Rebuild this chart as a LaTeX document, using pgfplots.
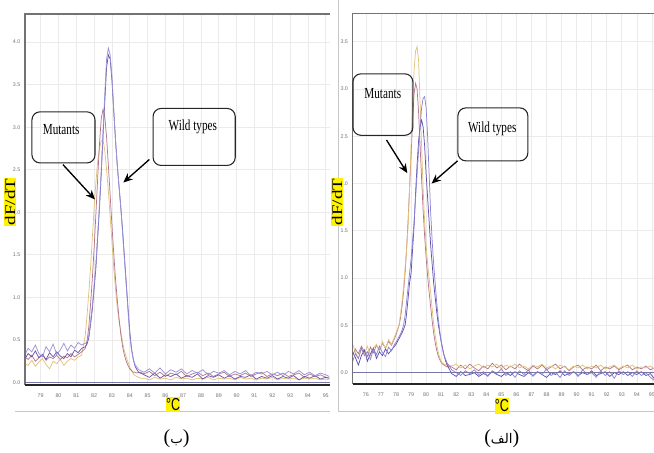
\documentclass[border=0pt]{standalone}
\usepackage{pgfplots}
\pgfplotsset{compat=1.18}
\usepackage{pgfplotstable}
\usepackage{graphicx}
\usepackage{fontspec}
\setmainfont{Liberation Serif}
\newfontfamily\arial{Liberation Sans}
\newfontfamily\arabicfont[Script=Arabic]{DejaVu Sans}
\usetikzlibrary{arrows.meta}
\TeXXeTstate=1
\definecolor{cvio}{HTML}{9A92D8}
\definecolor{cdark}{HTML}{6B55A8}
\definecolor{cmauve}{HTML}{B5768C}
\definecolor{ctan}{HTML}{E2C27A}
\definecolor{cbv}{HTML}{8C84D0}
\definecolor{cdb}{HTML}{5E4EB0}
\definecolor{cbase}{HTML}{7878A8}

% left panel (b): x vio dark mauve tan
\pgfplotstableread{
x vio dark mauve tan
78.12 0.33 0.28 0.30 0.22
78.3 0.40 0.34 0.27 0.20
78.5 0.36 0.30 0.32 0.26
78.7 0.44 0.37 0.25 0.19
78.9 0.34 0.29 0.29 0.24
79.1 0.30 0.33 0.33 0.28
79.3 0.42 0.27 0.26 0.21
79.5 0.36 0.35 0.30 0.16
79.7 0.45 0.30 0.28 0.25
79.9 0.33 0.36 0.32 0.22
80.1 0.38 0.31 0.27 0.27
80.3 0.46 0.28 0.31 0.20
80.5 0.37 0.34 0.29 0.25
80.7 0.44 0.30 0.34 0.28
80.9 0.40 0.38 0.30 0.26
81.1 0.47 0.35 0.33 0.30
81.3 0.44 0.40 0.36 0.32
81.5 0.46 0.42 0.40 0.55
81.6 0.48 0.45 0.48 0.78
81.7 0.55 0.52 0.65 1.05
81.8 0.72 0.68 0.92 1.35
81.9 0.90 0.86 1.22 1.70
82.0 1.15 1.10 1.58 2.05
82.1 1.40 1.35 1.98 2.35
82.2 1.75 1.70 2.40 2.60
82.3 2.10 2.05 2.80 2.75
82.4 2.50 2.45 3.10 2.84
82.5 2.95 2.90 3.21 2.85
82.6 3.40 3.30 3.12 2.72
82.7 3.80 3.70 2.88 2.50
82.8 3.93 3.85 2.55 2.25
82.9 3.85 3.80 2.20 1.95
83.0 3.60 3.55 1.85 1.65
83.1 3.20 3.20 1.52 1.35
83.2 2.85 2.85 1.22 1.10
83.3 2.55 2.55 0.97 0.88
83.4 2.30 2.30 0.75 0.72
83.5 2.05 2.05 0.56 0.60
83.6 1.75 1.78 0.42 0.47
83.7 1.45 1.48 0.32 0.37
83.8 1.15 1.18 0.25 0.30
83.9 0.85 0.88 0.20 0.24
84.0 0.55 0.60 0.16 0.18
84.1 0.38 0.40 0.14 0.14
84.2 0.27 0.27 0.12 0.10
84.3 0.21 0.19 0.12 0.08
84.4 0.18 0.15 0.11 0.07
84.5 0.15 0.12 0.12 0.06
84.6 0.14 0.11 0.12 0.05
84.8 0.12 0.09 0.10 0.05
85.1 0.16 0.06 0.13 0.03
85.4 0.11 0.11 0.08 0.06
85.7 0.17 0.05 0.12 0.04
86.0 0.10 0.09 0.07 0.05
86.3 0.15 0.07 0.11 0.03
86.6 0.12 0.10 0.09 0.06
86.9 0.16 0.05 0.13 0.04
87.2 0.10 0.08 0.07 0.05
87.5 0.14 0.06 0.10 0.03
87.8 0.11 0.10 0.12 0.05
88.1 0.15 0.04 0.08 0.04
88.4 0.09 0.08 0.11 0.06
88.7 0.13 0.06 0.07 0.03
89.0 0.11 0.09 0.10 0.05
89.3 0.14 0.05 0.12 0.04
89.6 0.09 0.08 0.07 0.05
89.9 0.13 0.04 0.10 0.03
90.2 0.10 0.07 0.08 0.06
90.5 0.14 0.06 0.11 0.04
90.8 0.08 0.09 0.07 0.05
91.1 0.12 0.04 0.10 0.03
91.4 0.10 0.07 0.12 0.05
91.7 0.13 0.05 0.07 0.04
92.0 0.09 0.08 0.10 0.06
92.3 0.12 0.04 0.08 0.03
92.6 0.08 0.07 0.11 0.05
92.9 0.13 0.05 0.07 0.04
93.2 0.10 0.08 0.09 0.05
93.5 0.14 0.03 0.11 0.03
93.8 0.09 0.07 0.06 0.05
94.1 0.12 0.05 0.10 0.04
94.4 0.08 0.08 0.07 0.05
94.7 0.11 0.04 0.09 0.03
95.0 0.09 0.06 0.06 0.04
95.2 0.07 0.05 0.05 0.03
}\tabL

% right panel (alef): x tan mauve bv db
\pgfplotstableread{
x tan mauve bv db
75.12 0.30 0.18 0.12 0.22
75.3 0.22 0.25 0.20 0.16
75.5 0.15 0.20 0.15 0.08
75.7 0.25 0.28 0.26 0.18
75.9 0.20 0.22 0.18 0.24
76.1 0.28 0.17 0.22 0.12
76.3 0.18 0.27 0.14 0.20
76.5 0.26 0.21 0.25 0.26
76.7 0.30 0.29 0.19 0.15
76.9 0.22 0.24 0.28 0.22
77.1 0.33 0.31 0.21 0.18
77.3 0.25 0.26 0.17 0.25
77.5 0.35 0.33 0.27 0.20
77.7 0.30 0.29 0.23 0.24
77.9 0.38 0.36 0.30 0.28
78.0 0.42 0.40 0.32 0.30
78.1 0.46 0.45 0.35 0.33
78.2 0.50 0.50 0.38 0.36
78.3 0.62 0.58 0.41 0.39
78.4 0.75 0.70 0.45 0.42
78.5 0.90 0.85 0.50 0.46
78.6 1.10 1.05 0.60 0.50
78.7 1.30 1.30 0.75 0.62
78.8 1.55 1.60 0.90 0.78
78.9 1.95 1.95 1.05 0.95
79.0 2.40 2.30 1.20 1.05
79.1 2.85 2.65 1.40 1.30
79.2 3.20 2.95 1.60 1.55
79.3 3.40 3.06 1.85 1.90
79.4 3.45 3.00 2.10 2.20
79.5 3.30 2.75 2.35 2.45
79.6 2.85 2.40 2.60 2.60
79.7 2.40 2.05 2.80 2.67
79.8 1.95 1.72 2.90 2.60
79.9 1.60 1.45 2.92 2.40
80.0 1.35 1.22 2.80 2.10
80.1 1.15 1.02 2.50 1.85
80.2 1.00 0.85 2.10 1.60
80.3 0.85 0.70 1.70 1.35
80.4 0.68 0.55 1.40 1.15
80.5 0.52 0.42 1.15 0.95
80.6 0.40 0.32 0.95 0.80
80.7 0.30 0.24 0.75 0.65
80.8 0.22 0.18 0.58 0.52
80.9 0.16 0.14 0.45 0.42
81.0 0.12 0.11 0.33 0.33
81.1 0.10 0.09 0.24 0.25
81.2 0.09 0.08 0.18 0.18
81.3 0.08 0.07 0.14 0.12
81.4 0.09 0.06 0.10 0.08
81.5 0.08 0.07 0.08 0.05
81.7 0.07 0.06 0.03 -0.01
82.0 0.09 0.03 0.00 -0.04
82.3 0.05 0.08 -0.03 0.01
82.6 0.08 0.04 0.02 -0.03
82.9 0.04 0.09 -0.01 -0.02
83.2 0.07 0.05 0.03 0.00
83.5 0.09 0.02 -0.02 -0.04
83.8 0.05 0.07 0.01 -0.01
84.1 0.08 0.04 -0.04 -0.03
84.4 0.06 0.10 0.02 0.01
84.7 0.09 0.05 -0.01 -0.02
85.0 0.04 0.08 0.04 -0.04
85.3 0.08 0.03 -0.03 0.00
85.6 0.06 0.07 0.01 -0.03
85.9 0.09 0.04 -0.05 0.01
86.2 0.05 0.09 0.02 -0.02
86.5 0.07 0.05 -0.02 -0.04
86.8 0.04 0.02 0.03 0.00
87.1 0.08 0.07 -0.04 -0.03
87.4 0.06 0.04 0.01 0.01
87.7 0.09 0.08 -0.02 -0.02
88.0 0.05 0.03 0.04 -0.05
88.3 0.07 0.06 -0.03 0.00
88.6 0.04 0.09 0.00 -0.02
88.9 0.08 0.04 -0.05 0.02
89.2 0.06 0.07 0.02 -0.03
89.5 0.03 0.02 -0.03 -0.01
89.8 0.07 0.06 0.01 0.01
90.1 0.05 0.08 -0.04 -0.03
90.4 0.08 0.03 0.03 0.00
90.7 0.04 0.06 -0.02 -0.02
91.0 0.07 0.04 0.00 0.02
91.3 0.05 0.08 -0.05 -0.03
91.6 0.08 0.02 0.02 -0.01
91.9 0.04 0.06 -0.03 0.01
92.2 0.06 0.04 0.01 -0.04
92.5 0.08 0.07 -0.06 0.00
92.8 0.04 0.03 0.02 -0.02
93.1 0.07 0.06 -0.02 0.01
93.4 0.05 0.08 0.01 -0.03
93.7 0.08 0.03 -0.04 0.00
94.0 0.04 0.06 0.02 -0.02
94.3 0.06 0.04 -0.03 0.01
94.6 0.05 0.07 0.00 -0.03
94.9 0.07 0.03 -0.05 -0.01
95.14 0.04 0.05 -0.08 -0.06
}\tabR

\pgfplotsset{
  melt/.style={
    scale only axis, anchor=south west, clip=false,
    axis line style={draw=none},
    tick style={draw=none},
    xmajorgrids, ymajorgrids,
    major grid style={draw=black!8, line width=0.5pt},
    ticklabel style={font=\arial\fontsize{4}{5}\selectfont, text=black!55},
    /pgf/number format/assume math mode=true,
    yticklabel style={/pgf/number format/fixed, /pgf/number format/fixed zerofill, /pgf/number format/precision=1},
    xticklabel style={yshift=-3pt},
    ytick={0,0.5,1,1.5,2,2.5,3,3.5,4},
    xlabel={\scalebox{0.72}[1]{°C}},
    ylabel={\scalebox{1.3}[1]{dF/dT}},
    xlabel style={font=\arial\fontsize{13}{14}\selectfont, fill=yellow, inner xsep=0.2pt, inner ysep=1.2pt, anchor=center},
    ylabel style={font=\fontsize{11}{12}\selectfont, fill=yellow, inner sep=0.5pt, anchor=center},
    every axis plot/.append style={line width=0.55pt, no marks},
  },
}
\tikzset{
  callout/.style={rounded corners=6pt, line width=0.8pt, draw=black!85},
  calltext/.style={font=\fontsize{11.5}{13}\selectfont, text=black},
  callarrow/.style={-{Stealth[length=7pt,width=6pt]}, line width=1pt, black},
}

\begin{document}
\begin{tikzpicture}
\path[use as bounding box] (0,0) rectangle (490.5pt,339.75pt);
% panel frame lines
\draw[black!22, line width=0.75pt] (11.25pt,31.1pt) -- (247.5pt,31.1pt);
\draw[black!22, line width=0.75pt] (253.5pt,339.75pt) -- (253.5pt,31.1pt) -- (490.5pt,31.1pt);

% ---------- left panel (b) ----------
\begin{axis}[melt, at={(18.75pt,51pt)}, width=228.75pt, height=278.25pt,
  xmin=78.12, xmax=95.24, ymin=-0.03, ymax=4.33,
  xtick={79,80,...,95},
  xlabel style={at={(axis description cs:0.486,-0.053)}},
  ylabel style={at={(axis description cs:-0.049,0.493)}}]
\addplot[ctan] table[x=x, y=tan] {\tabL};
\addplot[cmauve] table[x=x, y=mauve] {\tabL};
\addplot[cdark] table[x=x, y=dark] {\tabL};
\addplot[cvio] table[x=x, y=vio] {\tabL};
\addplot[cbase, line width=0.9pt] coordinates {(78.12,0) (95.24,0)};
\draw[black!55, line width=0.9pt] (rel axis cs:0,0) -- (rel axis cs:0,1) -- (rel axis cs:1,1);
\draw[black!85, line width=1.3pt] (rel axis cs:0,0) -- (rel axis cs:1,0);
% callouts
\draw[callout] (axis cs:78.51,3.18) rectangle (axis cs:82.05,2.58);
\node[calltext] at (axis cs:80.15,2.97) {\scalebox{0.73}[1]{Mutants}};
\draw[callarrow] (axis cs:80.25,2.56) -- (axis cs:82.05,2.15);
\draw[callout] (axis cs:85.31,3.22) rectangle (axis cs:89.92,2.55);
\node[calltext] at (axis cs:87.54,3.0) {\scalebox{0.73}[1]{Wild types}};
\draw[callarrow] (axis cs:85.10,2.62) -- (axis cs:83.64,2.35);
\end{axis}

% ---------- right panel (alef) ----------
\begin{axis}[melt, at={(264.5pt,51.75pt)}, width=226pt, height=278pt,
  xmin=75.12, xmax=95.14, ymin=-0.12, ymax=3.8,
  xtick={76,77,...,95},
  xlabel style={at={(axis description cs:0.4955,-0.059)}},
  ylabel style={at={(axis description cs:-0.052,0.491)}}]
\addplot[cmauve] table[x=x, y=mauve] {\tabR};
\addplot[ctan] table[x=x, y=tan] {\tabR};
\addplot[cdb] table[x=x, y=db] {\tabR};
\addplot[cbv] table[x=x, y=bv] {\tabR};
\addplot[cbase, line width=0.9pt] coordinates {(75.12,0) (95.14,0)};
\draw[black!55, line width=0.9pt] (rel axis cs:0,0) -- (rel axis cs:0,1) -- (rel axis cs:1,1);
\draw[black!85, line width=1.3pt] (rel axis cs:0,0) -- (rel axis cs:1,0);
% callouts
\draw[callout] (axis cs:75.14,3.16) rectangle (axis cs:79.12,2.51);
\node[calltext] at (axis cs:77.12,2.95) {\scalebox{0.73}[1]{Mutants}};
\draw[callarrow] (axis cs:77.37,2.46) -- (axis cs:78.75,2.11);
\draw[callout] (axis cs:82.11,2.80) rectangle (axis cs:86.76,2.24);
\node[calltext] at (axis cs:84.39,2.58) {\scalebox{0.73}[1]{Wild types}};
\draw[callarrow] (axis cs:82.09,2.24) -- (axis cs:80.36,2.00);
\end{axis}

% panel captions
\node[inner sep=0pt] at (132.5pt,10.5pt) {\fontsize{15}{16}\selectfont(\arabicfont\fontsize{10}{12}\selectfont\beginR ب\endR\fontsize{15}{16}\selectfont\rmfamily)};
\node[inner sep=0pt] at (376.3pt,10.5pt) {\fontsize{15}{16}\selectfont(\arabicfont\fontsize{10}{12}\selectfont\beginR الف\endR\fontsize{15}{16}\selectfont\rmfamily)};
\end{tikzpicture}
\end{document}
